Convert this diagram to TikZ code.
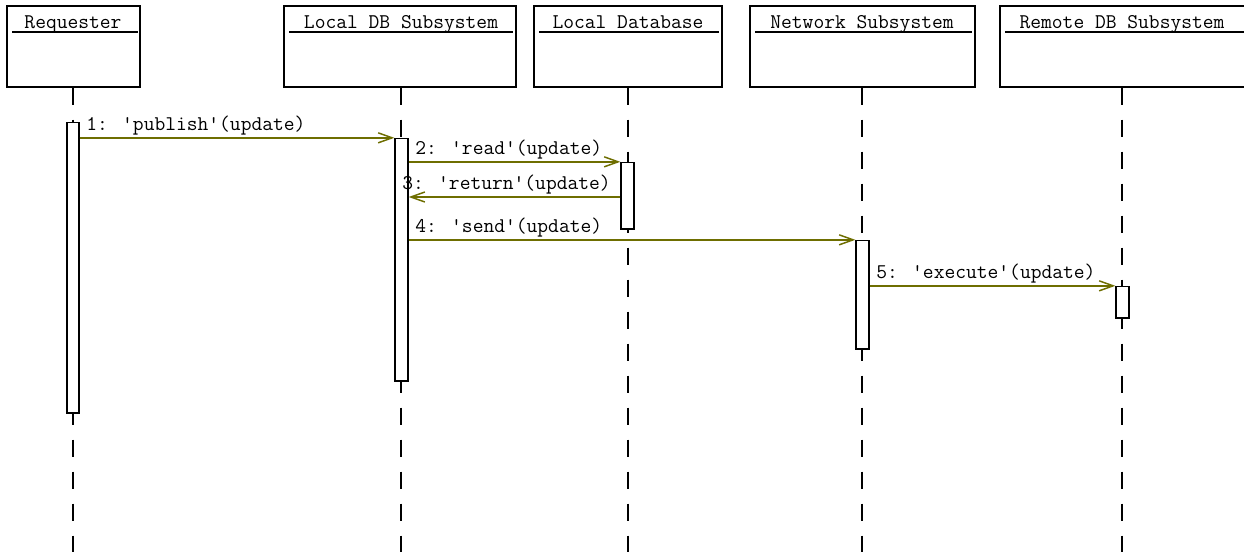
\documentclass[tikz,border=0pt]{standalone}
\usepackage{fontspec}
\usetikzlibrary{arrows.meta,fit}
\definecolor{msgc}{RGB}{110,110,0}
\tikzset{
  head/.style={draw=black, line width=1pt, fill=white, inner sep=0pt},
  act/.style={draw=black, line width=1pt, fill=white, inner sep=0pt},
  life/.style={draw=black, line width=1pt, dash pattern=on 12.75pt off 11.25pt},
  uline/.style={draw=black, line width=1pt},
  ttl/.style={font=\ttfamily\fontsize{15.7pt}{17pt}\selectfont, inner sep=0pt, anchor=base},
  lbl/.style={font=\ttfamily\fontsize{15.7pt}{17pt}\selectfont, inner sep=0pt, anchor=base west},
  msg/.style={draw=msgc, line width=1.1pt, -{Straight Barb[length=10.5pt,width=7.5pt,line width=1.1pt]}}
}
\begin{document}
\begin{tikzpicture}[x=0.75pt,y=-0.75pt]
\useasboundingbox (0,0) rectangle (1244,552);
\fill[white] (0,0) rectangle (1244,552);
% heads
\node[head, fit={(7,6) (140,87)}] (h1) {};
\node[head, fit={(284,6) (516,87)}] (h2) {};
\node[head, fit={(534,6) (722,87)}] (h3) {};
\node[head, fit={(750,6) (975,87)}] (h4) {};
\node[head, fit={(1000,6) (1247,87)}] (h5) {};
% titles
\node[ttl] (t1) at (73,29) {Requester};
\node[ttl] (t2) at (401,29) {Local DB Subsystem};
\node[ttl] (t3) at (628,29) {Local Database};
\node[ttl] (t4) at (862,29) {Network Subsystem};
\node[ttl] (t5) at (1122,29) {Remote DB Subsystem};
\draw[uline] (12,32) -- (138,32);
\draw[uline] (289,32) -- (513,32);
\draw[uline] (539,32) -- (719,32);
\draw[uline] (755,32) -- (972,32);
\draw[uline] (1005,32) -- (1244,32);
% lifelines
\draw[life] (h1.south -| 73,0) -- (73,552);
\draw[life] (h2.south -| 401,0) -- (401,552);
\draw[life] (h3.south -| 628,0) -- (628,552);
\draw[life] (h4.south -| 862,0) -- (862,552);
\draw[life] (h5.south -| 1122,0) -- (1122,552);
% activations
\node[act, fit={(67,122.5) (79,413)}] (a1) {};
\node[act, fit={(395,138.5) (408,381)}] (a2) {};
\node[act, fit={(621,162.5) (634,229)}] (a3) {};
\node[act, fit={(856,240.5) (869,349)}] (a4) {};
\node[act, fit={(1116,286.5) (1129,318)}] (a5) {};
% messages
\coordinate (m3) at (0,197);
\draw[msg] (a1.east |- a2.north) -- (a2.north west);
\draw[msg] (a2.east |- a3.north) -- (a3.north west);
\draw[msg] (a3.west |- m3) -- (a2.east |- m3);
\draw[msg] (a2.east |- a4.north) -- (a4.north west);
\draw[msg] (a4.east |- a5.north) -- (a5.north west);
% labels
\node[lbl] (l1) at (86,131) {1: 'publish'(update)};
\node[lbl] (l2) at (415,155) {2: 'read'(update)};
\node[lbl] (l3) at (402,190) {3: 'return'(update)};
\node[lbl] (l4) at (415,233) {4: 'send'(update)};
\node[lbl] (l5) at (876,278) {5: 'execute'(update)};
\end{tikzpicture}
\end{document}
